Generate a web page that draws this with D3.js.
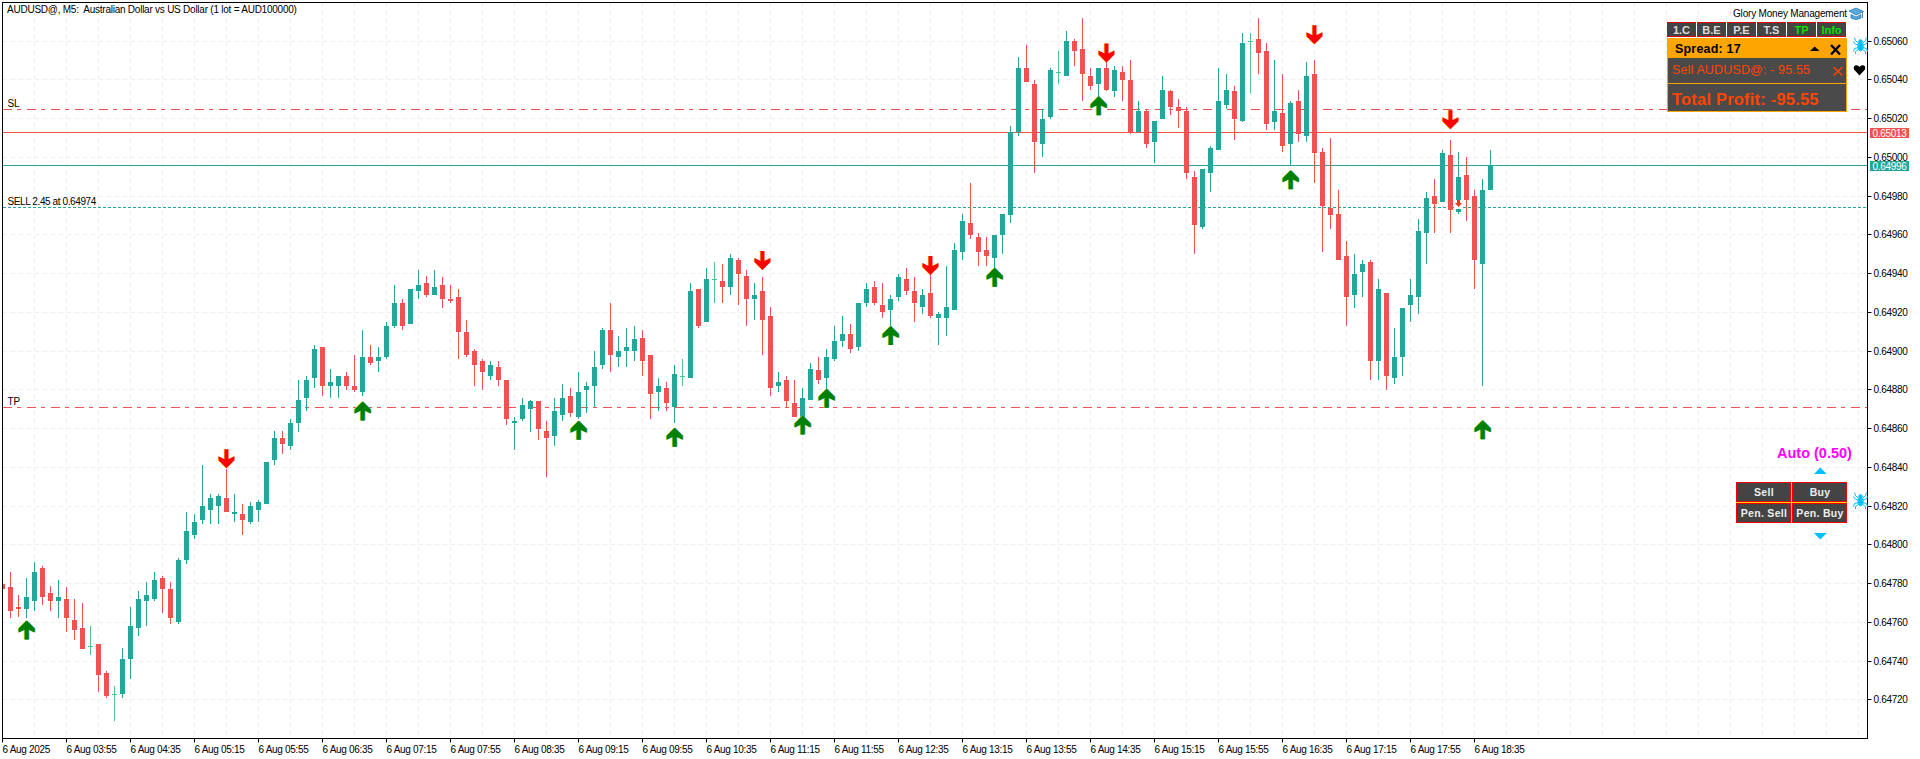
<!DOCTYPE html>
<html><head><meta charset="utf-8">
<style>
html,body{margin:0;padding:0;background:#fff;overflow:hidden}
svg{display:block}
text{font-family:"Liberation Sans",Arial,sans-serif}
</style>
<script src="https://cdn.jsdelivr.net/npm/d3@7"></script>
</head><body><svg id="c" width="1920" height="759"></svg>
<script>
// Prices in points (1 point = 0.00001)
const highs=[64780,64786,64774,64783,64791,64789,64779,64782,64778,64772,
64770,64758,64749,64735,64727,64747,64768,64776,64781,64786,
64784,64781,64793,64817,64816,64841,64826,64826,64839,64826,
64821,64822,64823,64843,64859,64859,64865,64885,64887,64903,
64902,64891,64887,64889,64898,64911,64903,64902,64915,64934,
64927,64932,64942,64939,64942,64938,64934,64932,64916,64901,
64896,64895,64895,64885,64866,64876,64875,64874,64864,64876,
64883,64881,64889,64884,64900,64912,64925,64908,64912,64913,
64911,64898,64886,64884,64893,64896,64935,64932,64943,64946,
64945,64950,64948,64942,64935,64938,64923,64889,64887,64885,
64881,64894,64897,64901,64913,64918,64914,64925,64935,64936,
64935,64929,64940,64943,64938,64932,64940,64920,64944,64956,
64971,64987,64961,64959,64960,64971,65016,65052,65058,65040,
65025,65046,65055,65065,65061,65072,65046,65046,65050,65047,
65047,65050,65029,65025,65019,65042,65035,65030,65026,64993,
64994,65006,65046,65043,65037,65064,65064,65072,65059,65050,
65043,65029,65035,65049,65050,65005,65010,64983,64957,64950,
64947,64947,64937,64930,64912,64922,64937,64968,64982,64989,
65004,65009,65003,65000,64983,64989,65004];
const lows=[64777,64762,64763,64762,64766,64769,64766,64762,64755,64751,
64746,64743,64724,64721,64709,64721,64731,64753,64758,64771,
64765,64759,64759,64790,64803,64811,64811,64811,64817,64812,
64805,64811,64812,64821,64841,64847,64849,64858,64869,64881,
64877,64876,64876,64880,64879,64877,64893,64889,64896,64912,
64911,64914,64927,64928,64929,64922,64925,64896,64897,64882,
64880,64885,64882,64862,64849,64864,64858,64854,64835,64851,
64864,64866,64865,64868,64871,64891,64889,64892,64892,64895,
64887,64865,64869,64869,64863,64882,64886,64912,64915,64925,
64925,64929,64924,64913,64916,64898,64877,64879,64871,64866,
64864,64875,64883,64880,64895,64902,64899,64900,64923,64924,
64917,64913,64926,64929,64915,64919,64917,64903,64908,64921,
64947,64958,64944,64944,64943,64950,64966,65011,65039,64992,
65000,65020,65038,65042,65047,65029,65035,65029,65034,65031,
65029,65012,65013,65005,64997,65020,65022,65015,64989,64950,
64963,64982,65004,65025,65009,65018,65033,65043,65014,65014,
65003,64996,65008,65008,64987,64951,64963,64947,64913,64922,
64928,64885,64885,64880,64883,64887,64915,64919,64945,64961,
64977,64961,64971,64967,64932,64882,64983];
const opens=[64780,64778,64768,64767,64771,64788,64775,64771,64772,64761,
64757,64748,64749,64734,64723,64723,64741,64757,64771,64772,
64783,64777,64760,64792,64805,64813,64818,64820,64824,64816,
64816,64812,64818,64821,64844,64855,64851,64863,64876,64886,
64902,64882,64882,64887,64882,64879,64897,64895,64897,64913,
64925,64914,64931,64935,64929,64934,64927,64928,64910,64900,
64895,64887,64892,64885,64863,64865,64870,64874,64859,64856,
64867,64877,64866,64880,64882,64893,64911,64897,64900,64900,
64907,64898,64879,64881,64871,64887,64886,64932,64915,64937,
64936,64933,64947,64939,64927,64931,64918,64882,64885,64873,
64866,64875,64890,64886,64896,64905,64909,64902,64925,64933,
64924,64921,64928,64937,64931,64923,64930,64917,64917,64921,
64951,64966,64959,64952,64948,64960,64970,65013,65046,65038,
65007,65021,65044,65042,65060,65056,65042,65038,65046,65034,
65044,65040,65013,65024,65008,65020,65034,65026,65024,64990,
64964,64992,65004,65027,65034,65019,65060,65061,65055,65018,
65023,65007,65029,65011,65043,65003,64974,64971,64949,64929,
64941,64946,64895,64930,64886,64897,64924,64928,64961,64980,
64977,65001,64972,64991,64980,64945,64983];
const closes=[64777,64766,64767,64773,64786,64773,64771,64773,64762,64756,
64746,64748,64733,64722,64723,64741,64758,64772,64774,64782,
64777,64762,64792,64807,64812,64820,64824,64825,64817,64817,
64813,64820,64822,64843,64855,64852,64863,64875,64885,64901,
64882,64884,64887,64882,64880,64897,64894,64897,64913,64925,
64913,64932,64934,64929,64933,64927,64926,64910,64898,64893,
64889,64893,64885,64865,64864,64872,64874,64860,64855,64869,
64876,64868,64879,64882,64892,64911,64898,64900,64902,64906,
64895,64878,64882,64873,64888,64887,64931,64913,64937,64937,
64933,64948,64940,64927,64929,64916,64881,64884,64874,64866,
64876,64891,64885,64897,64905,64909,64901,64925,64932,64925,
64920,64927,64938,64931,64925,64929,64918,64919,64923,64952,
64967,64960,64951,64949,64960,64971,65013,65046,65039,65008,
65020,65045,65044,65060,65055,65043,65037,65046,65035,65045,
65040,65013,65024,65007,65019,65035,65026,65024,64992,64965,
64994,65005,65029,65035,65020,65059,65060,65054,65017,65024,
65006,65028,65012,65042,65002,64975,64970,64947,64928,64940,
64945,64895,64932,64887,64897,64922,64929,64962,64979,64976,
65002,64973,64990,64978,64947,64983,64996];

const priceTicks=[65060,65040,65020,65000,64980,64960,64940,64920,64900,64880,64860,64840,64820,64800,64780,64760,64740,64720];
const timeLabels=["6 Aug 2025","6 Aug 03:55","6 Aug 04:35","6 Aug 05:15","6 Aug 05:55","6 Aug 06:35","6 Aug 07:15","6 Aug 07:55","6 Aug 08:35","6 Aug 09:15","6 Aug 09:55","6 Aug 10:35","6 Aug 11:15","6 Aug 11:55","6 Aug 12:35","6 Aug 13:15","6 Aug 13:55","6 Aug 14:35","6 Aug 15:15","6 Aug 15:55","6 Aug 16:35","6 Aug 17:15","6 Aug 17:55","6 Aug 18:35"];

const upArrowIndex=[3,45,72,84,100,103,111,124,137,161,185];
const upArrowPrice=[64761,64874,64864,64860.5,64866.7,64880.6,64913,64943,65031.6,64993.4,64864.3];
const downArrowIndex=[28,95,116,138,164,181];
const downArrowPrice=[64839.5,64941.9,64939.3,65049,65058.4,65014.5];

const slPrice=65024.6, tpPrice=64871, askPrice=65013, bidPrice=64996, sellPrice=64974, sellIndex=182;
const RED="#ef5350", GREEN="#26a69a", DOJI="#52bf90", GRID="#efefef";

const svg=d3.select("#c");
const L=2,T=2,R=1867,B=738;
const y=d3.scaleLinear().domain([64720,65060]).range([699.85,41.1]);
const x=d3.scaleLinear().domain([0,186]).range([2,1490]);
const row=v=>Math.floor(y(v))+0.5;
const FONT=10;

// grid
const g=svg.append("g");
g.selectAll("line.h").data(priceTicks).join("line").attr("class","h").attr("x1",L+1).attr("x2",R).attr("y1",row).attr("y2",row)
 .attr("stroke",GRID).attr("stroke-dasharray","4 4");
g.selectAll("line.v").data(d3.range(4,233,4)).join("line").attr("class","v")
 .attr("x1",k=>x(k)+0.5).attr("x2",k=>x(k)+0.5).attr("y1",T+1).attr("y2",B)
 .attr("stroke",GRID).attr("stroke-dasharray","4 4");

// reference lines
const refs=[[slPrice,RED,"9 5 4 6"],[askPrice,RED,null],[bidPrice,GREEN,null],[sellPrice,GREEN,"3 2"],[tpPrice,RED,"9 5 4 6"]];
svg.append("g").selectAll("line").data(refs).join("line")
 .attr("x1",L+1).attr("x2",R).attr("y1",d=>row(d[0])).attr("y2",d=>row(d[0]))
 .attr("stroke",d=>d[1]).attr("stroke-dasharray",d=>d[2]);

// candles
svg.append("clipPath").attr("id","plot").append("rect").attr("x",L+1).attr("y",T+1).attr("width",R-L-1).attr("height",B-T-1);
const candles=svg.append("g").attr("clip-path","url(#plot)").attr("shape-rendering","crispEdges");
const idx=d3.range(highs.length);
const col=i=>closes[i]===opens[i]?DOJI:(closes[i]>opens[i]?GREEN:RED);
candles.selectAll("rect.w").data(idx).join("rect").attr("class","w")
 .attr("x",i=>x(i)).attr("width",1)
 .attr("y",i=>Math.round(y(highs[i]))).attr("height",i=>Math.max(1,Math.round(y(lows[i]))-Math.round(y(highs[i]))))
 .attr("fill",col);
candles.selectAll("rect.b").data(idx).join("rect").attr("class","b")
 .attr("x",i=>x(i)-2).attr("width",5)
 .attr("y",i=>Math.round(y(Math.max(opens[i],closes[i]))))
 .attr("height",i=>Math.max(1,Math.round(y(Math.min(opens[i],closes[i])))-Math.round(y(Math.max(opens[i],closes[i])))))
 .attr("fill",col);

// arrows
const downShape="M-2,-19L2,-19L2,-9L8,-12L8,-8L0,0L-8,-8L-8,-12L-2,-9Z";
const upShape="M-2,19L2,19L2,9L8,12L8,8L0,0L-8,8L-8,12L-2,9Z";
const arrows=svg.append("g");
upArrowIndex.forEach((k,i)=>{
  const px=x(k)+0.5,py=y(upArrowPrice[i]);
  arrows.append("path").attr("d",upShape).attr("transform",`translate(${px-0.8},${py})`).attr("fill","#f5e62a");
  arrows.append("path").attr("d",upShape).attr("transform",`translate(${px+0.8},${py})`).attr("fill","#1f8fd0");
  arrows.append("path").attr("d",upShape).attr("transform",`translate(${px},${py})`).attr("fill","#008000");
});
downArrowIndex.forEach((k,i)=>{
  const px=x(k)+0.5,py=y(downArrowPrice[i]);
  arrows.append("path").attr("d",downShape).attr("transform",`translate(${px-0.6},${py})`).attr("fill","#ffd000");
  arrows.append("path").attr("d",downShape).attr("transform",`translate(${px},${py})`).attr("fill","#ff0000");
});
// small sell marker
const sx=x(sellIndex)+0.5,sy=Math.round(y(sellPrice));
arrows.append("rect").attr("x",sx-4.5).attr("y",sy-8).attr("width",9).attr("height",9).attr("fill","#fff");
arrows.append("path").attr("d","M-1.5,-7L1.5,-7L1.5,-4L3.5,-4L0,0L-3.5,-4L-1.5,-4Z").attr("transform",`translate(${sx},${sy-1})`).attr("fill","#e8391c");

// axes
const yAxis=d3.axisRight(y).tickValues(priceTicks).tickFormat(d=>(d/1e5).toFixed(5)).tickSize(4).tickPadding(2);
const yg=svg.append("g").attr("transform",`translate(${R+0.5},0)`).call(yAxis);
yg.selectAll(".tick").attr("transform",d=>`translate(0,${row(d)})`);
const xTicks=d3.range(0,timeLabels.length).map(i=>i*8);
const xAxis=d3.axisBottom(x).tickValues(xTicks).tickFormat(k=>timeLabels[k/8]).tickSize(4).tickPadding(3);
const xg=svg.append("g").attr("transform",`translate(0,${B+0.5})`).call(xAxis);
xg.selectAll(".tick").attr("transform",k=>`translate(${x(k)+0.5},0)`);
xg.selectAll(".tick text").attr("text-anchor","start").attr("x",0);
[yg,xg].forEach(a=>{
  a.selectAll(".domain").remove();
  a.selectAll("line").attr("stroke","#000");
  a.selectAll("text").attr("fill","#000").style("font-size",FONT+"px").style("font-family",'"Liberation Sans"').style("letter-spacing","-0.3px");
});
// frame
svg.append("rect").attr("x",L+.5).attr("y",T+.5).attr("width",R-L).attr("height",B-T).attr("fill","none").attr("stroke","#000");

function text(s,px,py,opt={}){
  return svg.append("text").attr("x",px).attr("y",py).text(s).attr("xml:space","preserve").style("white-space","pre")
   .attr("fill",opt.fill||"#000").style("font-size",(opt.size||FONT)+"px").style("font-weight",opt.bold?"bold":"normal")
   .style("letter-spacing",opt.ls==null?"-0.1px":opt.ls+"px").attr("text-anchor",opt.anchor||"start");
}
text("AUDUSD@, M5:  Australian Dollar vs US Dollar (1 lot = AUD100000)",7,13,{ls:-0.24});
text("SL",7.5,107);
text("SELL 2.45 at 0.64974",7.5,205,{ls:-0.4});
text("TP",7.5,405);

// price tags
[[askPrice,RED],[bidPrice,GREEN]].forEach(([p,c])=>{
  const r=Math.floor(y(p));
  svg.append("rect").attr("x",1870).attr("y",r-4).attr("width",39).attr("height",10).attr("fill",c);
  text((p/1e5).toFixed(5),1872.5,r+4.5,{fill:"#fff",ls:-0.3});
});

function box(x0,y0,w,h,fill,stroke){
  return svg.append("rect").attr("x",x0+.5).attr("y",y0+.5).attr("width",w-1).attr("height",h-1).attr("fill",fill).attr("stroke",stroke||"none");
}
// Top panel
text("Glory Money Management",1733,17,{ls:-0.18});
svg.append("path").attr("d","M1849,11L1856,8L1863.5,11.5L1856,15Z M1851,14.5L1856,17L1861,14.5L1861,18Q1856,21 1851,18Z M1862.5,12L1862.5,18").attr("fill","#5aa9dc").attr("stroke","#2b7fb8").attr("stroke-width",0.8);
const btns=[["1.C","#dddddd"],["B.E","#dddddd"],["P.E","#dddddd"],["T.S","#dddddd"],["TP","#00e000"],["Info","#00e000"]];
btns.forEach(([t,c],i)=>{
  const bx=1667+i*30;
  svg.append("rect").attr("x",bx+.5).attr("y",22.5).attr("width",28).attr("height",14).attr("fill","#444").attr("stroke","#dd0000");
  text(t,bx+14.5,34,{fill:c,bold:true,size:11,anchor:"middle",ls:0});
});
box(1667,38,180,74,"#4a4a4a","#ffa500");
svg.append("rect").attr("x",1667).attr("y",38).attr("width",180).attr("height",20).attr("fill","#ffa500");
svg.append("rect").attr("x",1668).attr("y",83).attr("width",178).attr("height",1).attr("fill","#ffa500");
text("Spread: 17",1675,53,{bold:true,size:12.5,ls:0.2});
svg.append("path").attr("d","M1810,51L1814.7,46.5L1819.5,51Z").attr("fill","#000");
svg.append("path").attr("d","M1831,45L1840,54.5M1840,45L1831,54.5").attr("stroke","#000").attr("stroke-width",2.4);
text("Sell AUDUSD@: - 95.55",1672,74,{fill:"#ff4500",size:12.5,ls:0.15});
svg.append("path").attr("d","M1833.5,67L1842.5,75.5M1842.5,67L1833.5,75.5").attr("stroke","#ff4500").attr("stroke-width",1.5);
text("Total Profit: -95.55",1672,105,{fill:"#ff4500",bold:true,size:16.5,ls:0.2});

function spider(cx,cy){
  const s=svg.append("g").attr("transform",`translate(${cx},${cy})`).attr("stroke","#00bfff").attr("fill","none").attr("stroke-width",1);
  s.append("ellipse").attr("cx",0).attr("cy",1).attr("rx",2.6).attr("ry",4.2).attr("fill","#00bfff");
  s.append("circle").attr("cx",0).attr("cy",-4).attr("r",1.8).attr("fill","#00bfff");
  s.append("path").attr("d","M-2,-2L-5,-5L-6,-8M2,-2L5,-5L6,-8M-2,0L-6,-2L-7,-4M2,0L6,-2L7,-4M-2,2L-6,3L-7,6M2,2L6,3L7,6M-2,4L-5,6L-5,8.5M2,4L5,6L5,8.5");
}
spider(1860.5,45.5);
spider(1860.5,500.5);
svg.append("path").attr("d","M1859.5,75.5L1854,69.5Q1853,65.5 1856,65.2Q1858.5,65 1859.5,67Q1860.5,65 1863,65.2Q1866,65.5 1865,69.5Z").attr("fill","#000");

// Bottom panel
text("Auto (0.50)",1777,458,{fill:"#ff00ff",bold:true,size:14.5,ls:0});
svg.append("path").attr("d","M1814,474L1820.3,467.5L1826.7,474Z").attr("fill","#00bfff");
svg.append("path").attr("d","M1814,533L1820.3,539.5L1826.7,533Z").attr("fill","#00bfff");
[["Sell",1736,482],["Buy",1792,482],["Pen. Sell",1736,503],["Pen. Buy",1792,503]].forEach(([t,bx,by])=>{
  svg.append("rect").attr("x",bx+.5).attr("y",by+.5).attr("width",54).attr("height",19).attr("fill","#444").attr("stroke","#f00000");
  text(t,bx+28,by+14,{fill:"#eeeeee",bold:true,size:10.5,anchor:"middle",ls:0.3});
});
svg.append("rect").attr("x",1791).attr("y",482).attr("width",1).attr("height",41).attr("fill","#ffd000");
svg.append("rect").attr("x",1736).attr("y",502).attr("width",111).attr("height",1).attr("fill","#ffd000");
</script></body></html>
